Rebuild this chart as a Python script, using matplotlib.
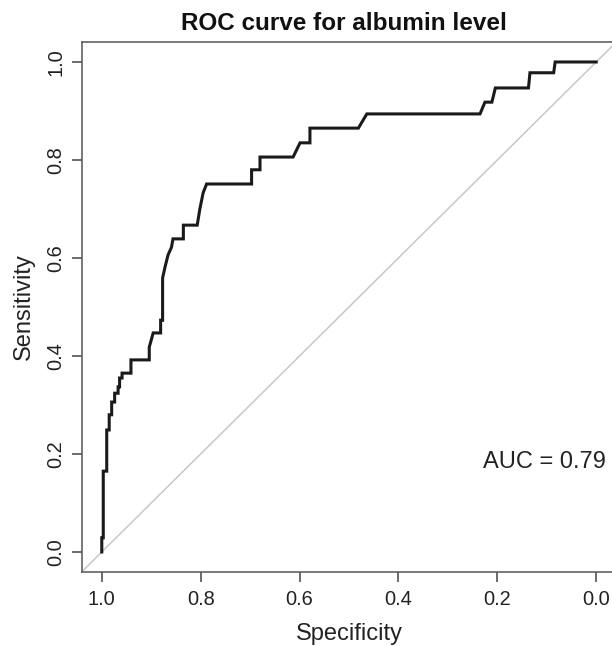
import matplotlib
matplotlib.use("Agg")
import matplotlib.pyplot as plt

plt.rcParams['font.family'] = ['Liberation Sans', 'DejaVu Sans']

# ROC step points (specificity, sensitivity)
specificity = [1.000, 1.000, 0.997, 0.997, 0.990, 0.990, 0.985, 0.985, 0.980, 0.980,
               0.974, 0.974, 0.967, 0.967, 0.964, 0.964, 0.959, 0.959, 0.941, 0.941,
               0.904, 0.904, 0.896, 0.881, 0.881, 0.877, 0.877, 0.872, 0.866, 0.859,
               0.856, 0.835, 0.835, 0.807, 0.802, 0.795, 0.788, 0.697, 0.697, 0.680,
               0.680, 0.613, 0.599, 0.579, 0.579, 0.481, 0.464, 0.235, 0.225, 0.211,
               0.204, 0.137, 0.134, 0.086, 0.083, 0.000]
sensitivity = [0.000, 0.029, 0.029, 0.165, 0.165, 0.249, 0.249, 0.280, 0.280, 0.306,
               0.306, 0.324, 0.324, 0.337, 0.337, 0.355, 0.355, 0.365, 0.365, 0.392,
               0.392, 0.418, 0.447, 0.447, 0.473, 0.473, 0.559, 0.582, 0.606, 0.622,
               0.639, 0.639, 0.667, 0.667, 0.698, 0.733, 0.751, 0.751, 0.780, 0.780,
               0.806, 0.806, 0.835, 0.835, 0.865, 0.865, 0.894, 0.894, 0.918, 0.918,
               0.947, 0.947, 0.978, 0.978, 1.000, 1.000]
auc = 0.79
ticks = [1.0, 0.8, 0.6, 0.4, 0.2, 0.0]

fig = plt.figure(figsize=(6.12, 6.46), dpi=100)
# plot region runs past the right edge, like the cropped original
ax = fig.add_axes([0.1340, 0.1152, 0.8725, 0.8192])

ax.axline((1.0, 0.0), (0.0, 1.0), color='#c8c8c8', lw=1.1, zorder=1)
ax.plot(specificity, sensitivity, color='#1a1a1a', lw=2.2, zorder=2,
        solid_joinstyle='miter')

ax.set_xlim(1.04, -0.04)
ax.set_ylim(-0.04, 1.04)
ax.set_xticks(ticks)
ax.set_yticks(ticks)
ax.set_xticklabels(['%.1f' % t for t in ticks])
ax.set_yticklabels(['%.1f' % t for t in ticks])
for lbl in ax.get_yticklabels():
    lbl.set_rotation(90)
    lbl.set_va('center')

for sp in ax.spines.values():
    sp.set_color('#555555')
    sp.set_linewidth(1.1)

ax.tick_params(length=7, width=1.1, color='#444444', labelsize=14.4,
               labelcolor='#222222', pad=6)
ax.tick_params(axis='y', pad=5)

ax.set_xlabel('Specificity', fontsize=17, color='#222222', labelpad=10)
ax.set_ylabel('Sensitivity', fontsize=17, color='#222222', labelpad=8)
ax.set_title('ROC curve for albumin level', fontsize=17.5, fontweight='bold',
             color='#111111', pad=9, x=0.49)

ax.text(0.228, 0.184, 'AUC = %.2f' % auc, fontsize=17, color='#222222',
        ha='left', va='center')

fig.savefig('out.png', dpi=100)
